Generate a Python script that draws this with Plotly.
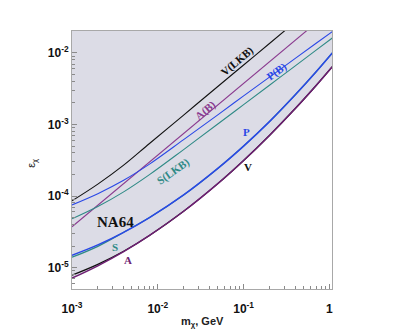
import plotly.graph_objects as go

m_grid = [0.001, 0.002, 0.004, 0.008, 0.02, 0.05, 0.1, 0.2, 0.4, 0.7, 1.08]

eps_A = [7.10e-6, 1.057e-5, 1.667e-5, 2.81e-5, 6.12e-5, 1.49e-4, 3.14e-4, 7.03e-4, 1.671e-3, 3.51e-3, 6.43e-3]
eps_V = [7.82e-6, 1.109e-5, 1.69e-5, 2.81e-5, 6.12e-5, 1.49e-4, 3.14e-4, 7.03e-4, 1.671e-3, 3.51e-3, 6.43e-3]
eps_P = [1.486e-5, 2.075e-5, 3.11e-5, 5.00e-5, 1.035e-4, 2.43e-4, 4.99e-4, 1.096e-3, 2.60e-3, 5.46e-3, 1.0e-2]
eps_S = [1.393e-5, 1.98e-5, 3.11e-5, 5.00e-5, 1.035e-4, 2.43e-4, 4.99e-4, 1.096e-3, 2.60e-3, 5.46e-3, 1.0e-2]
eps_PB = [7.52e-5, 1.079e-4, 1.660e-4, 2.79e-4, 6.14e-4, 1.365e-3, 2.51e-3, 4.59e-3, 8.39e-3, 1.365e-2, 1.99e-2]
eps_SLKB = [4.80e-5, 7.13e-5, 1.143e-4, 1.991e-4, 4.46e-4, 1.016e-3, 1.897e-3, 3.54e-3, 6.61e-3, 1.094e-2, 1.618e-2]

m_VLKB = [0.001, 0.002, 0.004, 0.008, 0.02, 0.05, 0.1, 0.2, 0.4]
eps_VLKB = [8.55e-5, 1.466e-4, 2.70e-4, 5.43e-4, 1.355e-3, 3.40e-3, 6.79e-3, 1.355e-2, 2.72e-2]

m_AB = [0.001, 0.7]
eps_AB = [3.71e-5, 2.64e-2]

eps_top = [1.0] * len(m_grid)  # upper edge of the excluded band (off the plot)

x_ticks = [1e-3, 1e-2, 1e-1, 1]
x_ticktext = ["10<sup>-3</sup>", "10<sup>-2</sup>", "10<sup>-1</sup>", "1"]
y_ticks = [1e-5, 1e-4, 1e-3, 1e-2]
y_ticktext = ["10<sup>-5</sup>", "10<sup>-4</sup>", "10<sup>-3</sup>", "10<sup>-2</sup>"]

C = {
    "black": "#111111",
    "purple": "#6e1f73",
    "purple_l": "#8a3a8f",
    "blue": "#2a48e6",
    "teal": "#2f8a86",
    "fill": "#dcdce6",
    "axis": "#a8a8a8",
}

fig = go.Figure()

fig.add_trace(go.Scatter(x=m_grid, y=eps_top, mode="lines", line=dict(width=0),
                         line_shape="spline", hoverinfo="skip", showlegend=False))
fig.add_trace(go.Scatter(x=m_grid, y=eps_A, mode="lines", line=dict(width=0),
                         line_shape="spline", fill="tonexty", fillcolor=C["fill"],
                         hoverinfo="skip", showlegend=False))

curves = [
    (m_VLKB, eps_VLKB, C["black"], 1.1),
    (m_AB, eps_AB, C["purple_l"], 1.1),
    (m_grid, eps_PB, C["blue"], 1.1),
    (m_grid, eps_SLKB, C["teal"], 1.1),
    (m_grid, eps_S, C["teal"], 1.3),
    (m_grid, eps_P, C["blue"], 1.5),
    (m_grid, eps_V, C["black"], 1.3),
    (m_grid, eps_A, C["purple"], 1.5),
]
for xs, ys, col, w in curves:
    fig.add_trace(go.Scatter(x=xs, y=ys, mode="lines", line=dict(color=col, width=w),
                             line_shape="spline", showlegend=False))

serif = "Liberation Serif"
labels = [
    ("V(LKB)", -1.077, -2.120, C["black"], -40, 11),
    ("A(B)", -1.446, -2.800, C["purple_l"], -40, 11),
    ("P(B)", -0.611, -2.259, C["blue"], -36, 11),
    ("S(LKB)", -1.819, -3.660, C["teal"], -35, 11),
    ("P", -0.964, -3.102, C["blue"], 0, 11),
    ("V", -0.945, -3.590, C["black"], 0, 11),
    ("S", -2.495, -4.714, C["teal"], 0, 11),
    ("A", -2.347, -4.891, C["purple"], 0, 11),
    ("NA64", -2.495, -4.357, C["black"], 0, 15),
]
for txt, lx, ly, col, ang, sz in labels:
    fig.add_annotation(x=lx, y=ly, xref="x", yref="y", text=f"<b>{txt}</b>", showarrow=False,
                       textangle=ang, font=dict(family=serif, size=sz, color=col))

fig.add_annotation(x=-0.155, y=0.488, xref="paper", yref="paper", text="ε<sub>χ</sub>",
                   showarrow=False, textangle=-90, xanchor="center", yanchor="middle",
                   font=dict(family="Liberation Sans", size=11, color="#222"))
fig.add_annotation(x=0.5, y=-0.128, xref="paper", yref="paper", text="<b>m<sub>χ</sub>, GeV</b>",
                   showarrow=False, xanchor="center", yanchor="middle",
                   font=dict(family="Liberation Sans", size=11, color="#222"))

x_minor = [k * d for d in [1e-3, 1e-2, 1e-1] for k in range(2, 10)]
y_minor = [k * d for d in [1e-6, 1e-5, 1e-4, 1e-3, 1e-2] for k in range(2, 10)]

axis_common = dict(
    type="log", showgrid=False, zeroline=False, automargin=False,
    showline=True, linecolor=C["axis"], linewidth=1, mirror=True,
    ticks="inside", ticklen=5, tickcolor="#8a8a8a", tickwidth=1,
    tickmode="array",
    tickfont=dict(family="Liberation Sans", size=12, color="#111", weight="bold"),
)

fig.update_xaxes(**axis_common, range=[-3, 0.03], tickvals=x_ticks, ticktext=x_ticktext,
                 ticklabelstandoff=9,
                 minor=dict(ticks="inside", ticklen=3, tickcolor="#8a8a8a", tickmode="array",
                            tickvals=x_minor, showgrid=False))
fig.update_yaxes(**axis_common, range=[-5.30, -1.693], tickvals=y_ticks, ticktext=y_ticktext,
                 minor=dict(ticks="inside", ticklen=3, tickcolor="#8a8a8a", tickmode="array",
                            tickvals=y_minor, showgrid=False))

# the page body adds an 8px margin, so the figure is shifted back by that much
fig.update_layout(
    width=399, height=324,
    margin=dict(l=64, r=75, t=23, b=43),
    paper_bgcolor="white", plot_bgcolor="white",
    showlegend=False,
)

fig.write_html("out.html")
